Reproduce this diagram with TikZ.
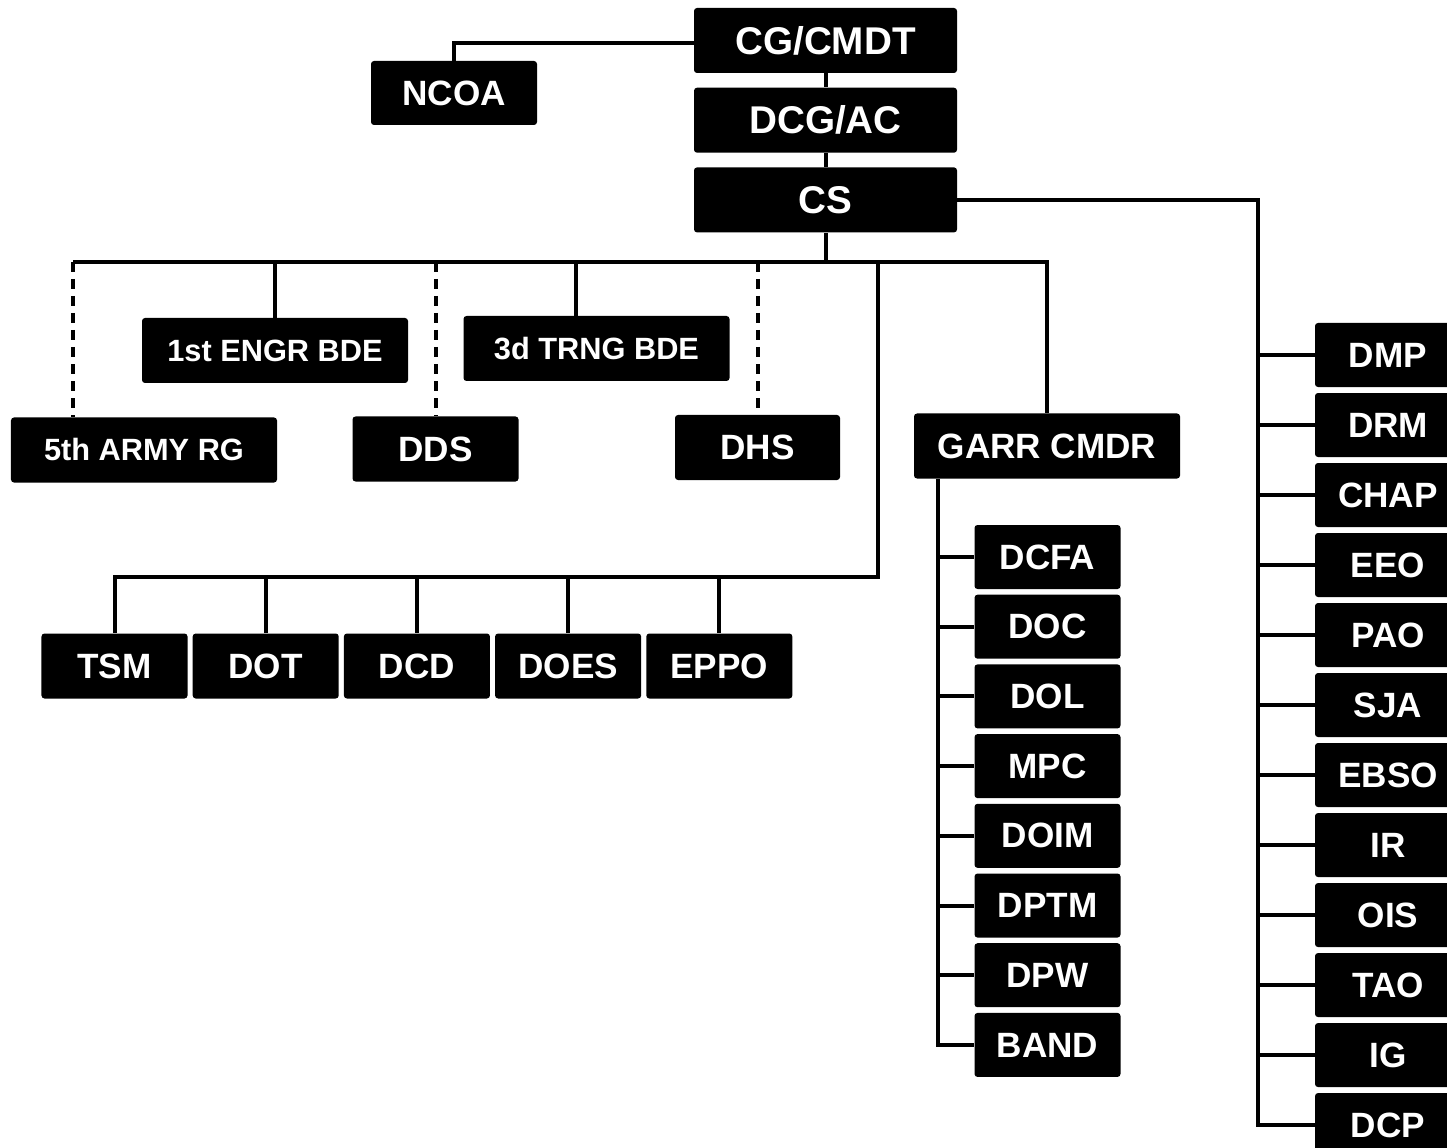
\documentclass[tikz,border=0pt]{standalone}
\usepackage{fontspec}
\setmainfont{Liberation Sans}
\usepackage{tikz}
\usetikzlibrary{positioning}
\tikzset{
  unit/.style={rectangle,rounded corners=0.6mm,fill=black,text=white,inner sep=0pt,
               minimum height=13mm,font=\bfseries\fontsize{20}{20}\selectfont},
  cmd/.style={unit,minimum width=52.6mm,font=\bfseries\fontsize{22}{22}\selectfont},
  wideb/.style={unit,minimum width=53.2mm},
  bde/.style={wideb,font=\bfseries\fontsize{17.5}{17.5}\selectfont},
  midb/.style={unit,minimum width=33.2mm},
  cell/.style={unit,minimum width=29.2mm,minimum height=12.8mm},
  link/.style={line width=0.8mm},
  dlink/.style={link,dash pattern=on 2mm off 1.4mm},
}
\begin{document}
\begin{tikzpicture}[x=0.2mm,y=-0.2mm]
  \useasboundingbox (0,0) rectangle (1447,1148);
  \node[cmd] (cg) at (825.5,40.5) {CG/CMDT};
  \node[cmd,below=2.8mm of cg] (dcg) {DCG/AC};
  \node[cmd,below=2.8mm of dcg] (cs) {CS};
  \node[midb,minimum height=12.8mm] (ncoa) at (454,93) {NCOA};

  \node[bde] (engr) at (275,350.5) {1st ENGR BDE};
  \node[bde] (trng) at (596.5,348.5) {3d TRNG BDE};
  \node[bde] (rg) at (144,450) {5th ARMY RG};
  \node[midb] (dds) at (435.5,449) {DDS};
  \node[midb,minimum width=33mm] (dhs) at (757.5,447.5) {DHS};
  \node[wideb] (garr) at (1047,446) {GARR CMDR};

  \node[cell,minimum height=13mm] (tsm) at (114.5,666) {TSM};
  \node[cell,minimum height=13mm,right=0.9mm of tsm] (dot) {DOT};
  \node[cell,minimum height=13mm,right=0.9mm of dot] (dcd) {DCD};
  \node[cell,minimum height=13mm,right=0.9mm of dcd] (does) {DOES};
  \node[cell,minimum height=13mm,right=0.9mm of does] (eppo) {EPPO};

  \node[cell] (dcfa) at (1047.5,557) {DCFA};
  \node[cell,below=1mm of dcfa] (doc) {DOC};
  \node[cell,below=1mm of doc] (dol) {DOL};
  \node[cell,below=1mm of dol] (mpc) {MPC};
  \node[cell,below=1mm of mpc] (doim) {DOIM};
  \node[cell,below=1mm of doim] (dptm) {DPTM};
  \node[cell,below=1mm of dptm] (dpw) {DPW};
  \node[cell,below=1mm of dpw] (band) {BAND};

  \node[cell] (dmp) at (1388,355) {DMP};
  \node[cell,below=1.06mm of dmp] (drm) {DRM};
  \node[cell,below=1.06mm of drm] (chap) {CHAP};
  \node[cell,below=1.06mm of chap] (eeo) {EEO};
  \node[cell,below=1.06mm of eeo] (pao) {PAO};
  \node[cell,below=1.06mm of pao] (sja) {SJA};
  \node[cell,below=1.06mm of sja] (ebso) {EBSO};
  \node[cell,below=1.06mm of ebso] (ir) {IR};
  \node[cell,below=1.06mm of ir] (ois) {OIS};
  \node[cell,below=1.06mm of ois] (tao) {TAO};
  \node[cell,below=1.06mm of tao] (ig) {IG};
  \node[cell,below=1.06mm of ig] (dcp) {DCP};

  \coordinate (busL) at (73,262);
  \coordinate (busR) at (1047,262);
  \coordinate (lowR) at (878,577);
  \coordinate (gstem) at ([xshift=4.8mm]garr.south west);
  \coordinate (rstem) at ([xshift=60.2mm]cs.east);

  \draw[link] ([yshift=-0.5mm]cg.west) -| (ncoa.north);
  \draw[link] (cg) -- (dcg);
  \draw[link] (dcg) -- (cs);
  \draw[link] (cs) -- (cs |- busL);
  \draw[link] (busL) -- (busR) -- (garr);
  \draw[link] (engr |- busL) -- (engr);
  \draw[link] ([xshift=-4.1mm]trng.north |- busL) -- ([xshift=-4.1mm]trng.north);
  \draw[dlink] (busL) -- (busL |- rg.north);
  \draw[dlink] (dds |- busL) -- (dds);
  \draw[dlink] (dhs |- busL) -- (dhs);

  \draw[link] (lowR |- busL) -- (lowR) -| (tsm);
  \foreach \n in {dot,dcd,does,eppo}
    \draw[link] (\n |- lowR) -- (\n);

  \draw[link] (gstem) |- (band.west);
  \foreach \n in {dcfa,doc,dol,mpc,doim,dptm,dpw}
    \draw[link] (gstem |- \n.west) -- (\n.west);

  \draw[link] (cs.east) -- (rstem) |- (dcp.west);
  \foreach \n in {dmp,drm,chap,eeo,pao,sja,ebso,ir,ois,tao,ig}
    \draw[link] (rstem |- \n.west) -- (\n.west);
\end{tikzpicture}
\end{document}
